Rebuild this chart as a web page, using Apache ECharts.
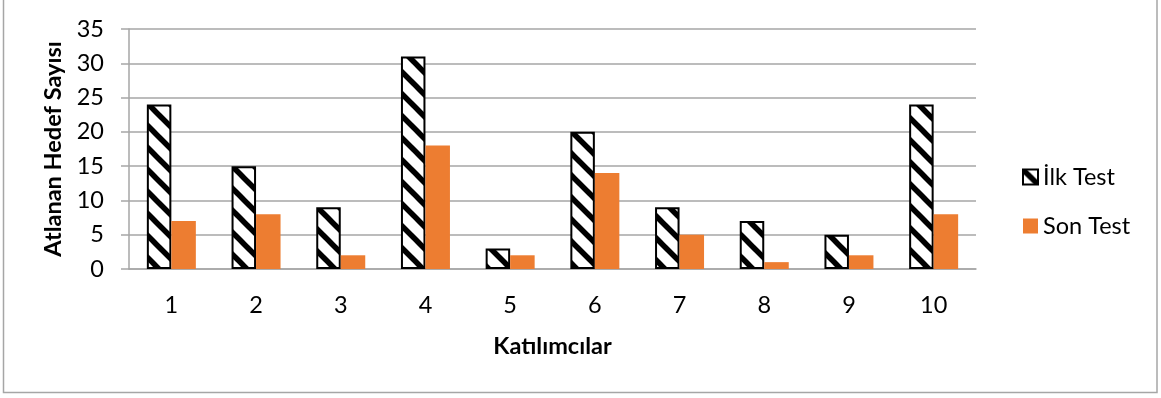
<!DOCTYPE html>
<html>
<head>
<meta charset="utf-8">
<style>
  html, body { margin: 0; padding: 0; background: #fff; }
  #chart { width: 1161px; height: 398px; }
</style>
<script src="https://cdn.jsdelivr.net/npm/echarts@6/dist/echarts.min.js"></script>
</head>
<body>
<div id="chart"></div>
<script>
// Participants and number of targets hit in the first and last test
const categories = ['1', '2', '3', '4', '5', '6', '7', '8', '9', '10'];
const ilkTest = [24, 15, 9, 31, 3, 20, 9, 7, 5, 24];
const sonTest = [7, 8, 2, 18, 2, 14, 5, 1, 2, 8];
const yTicks = { min: 0, max: 35, interval: 5 };

// Diagonal black-on-white stripe tile for the first-test bars
function stripeTile(size, width) {
  const c = document.createElement('canvas');
  c.width = size; c.height = size;
  const ctx = c.getContext('2d');
  ctx.fillStyle = '#fff';
  ctx.fillRect(0, 0, size, size);
  ctx.strokeStyle = '#000';
  ctx.lineWidth = width;
  ctx.lineCap = 'square';
  [-size, 0, size].forEach(function (off) {
    ctx.beginPath();
    ctx.moveTo(off, 0);
    ctx.lineTo(off + size, size);
    ctx.stroke();
  });
  return c;
}
const stripes = { image: stripeTile(22, 5.5), repeat: 'repeat' };

const font = 'Lato, "Liberation Sans", sans-serif';
const fs = 23.5;
const chart = echarts.init(document.getElementById('chart'), null, { renderer: 'canvas' });

chart.setOption({
  animation: false,
  backgroundColor: '#fff',
  textStyle: { fontFamily: font },
  graphic: [{
    type: 'rect',
    shape: { x: 3.5, y: -2, width: 1153.5, height: 394.5 },
    style: { fill: 'none', stroke: '#a6a6a6', lineWidth: 1.5 },
    silent: true
  }],
  grid: { left: 129, right: 185, top: 29, bottom: 129 },
  legend: {
    orient: 'vertical',
    left: 1017,
    top: 160,
    itemWidth: 15,
    itemHeight: 15,
    itemGap: 25,
    textStyle: { fontFamily: font, fontSize: fs, color: '#000', lineHeight: 23, padding: [0, 0, 0, 0] },
    data: [
      { name: 'İlk Test', icon: 'rect', itemStyle: { color: stripes, borderColor: '#000', borderWidth: 2 } },
      { name: 'Son Test', icon: 'rect' }
    ]
  },
  xAxis: {
    type: 'category',
    data: categories,
    name: 'Katılımcılar',
    nameLocation: 'middle',
    nameGap: 65,
    nameTextStyle: { fontFamily: font, fontSize: fs, fontWeight: 'bold', color: '#000' },
    axisLine: { lineStyle: { color: '#a6a6a6', width: 1.5 } },
    axisTick: { show: false },
    axisLabel: { fontFamily: font, fontSize: fs, color: '#000', margin: 24 }
  },
  yAxis: {
    type: 'value',
    min: yTicks.min,
    max: yTicks.max,
    interval: yTicks.interval,
    name: 'Atlanan Hedef Sayısı',
    nameLocation: 'middle',
    nameRotate: 90,
    nameGap: 63,
    nameTextStyle: { fontFamily: font, fontSize: fs, fontWeight: 'bold', color: '#000' },
    axisLine: { show: true, lineStyle: { color: '#a6a6a6', width: 1.5 } },
    axisTick: { show: true, length: 8, lineStyle: { color: '#a6a6a6', width: 1.5 } },
    axisLabel: { fontFamily: font, fontSize: fs, color: '#000', margin: 25 },
    splitLine: { lineStyle: { color: '#a6a6a6', width: 1.5 } }
  },
  series: [
    {
      name: 'İlk Test',
      type: 'bar',
      data: ilkTest,
      barWidth: 24.5,
      barGap: '0%',
      itemStyle: { color: stripes, borderColor: '#000', borderWidth: 2 }
    },
    {
      name: 'Son Test',
      type: 'bar',
      data: sonTest,
      barWidth: 24.5,
      itemStyle: { color: '#ED7D31' }
    }
  ]
});
</script>
</body>
</html>
